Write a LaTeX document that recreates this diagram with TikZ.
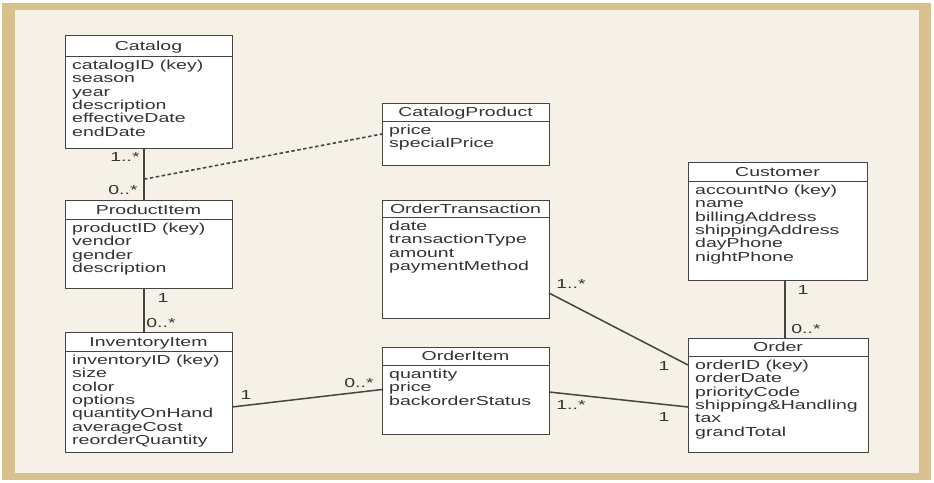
\documentclass[tikz,border=0pt]{standalone}
\usepackage{fontspec}
\setmainfont{Liberation Sans}[FakeStretch=1.5]
\definecolor{frametan}{HTML}{D6C18F}
\definecolor{cream}{HTML}{F6F1E6}
\definecolor{boxline}{HTML}{444444}
\definecolor{txt}{HTML}{333333}
\tikzset{
  clsbox/.style={draw=boxline, fill=white, line width=1pt, inner sep=0pt, outer sep=0pt},
  clsline/.style={draw=boxline, line width=1pt},
  clstext/.style={inner sep=0pt, text=txt, font=\fontsize{13}{13.4}\selectfont},
  conn/.style={draw=boxline, line width=1.5pt},
  mult/.style={inner sep=0pt, text=txt, font=\fontsize{13}{13.4}\selectfont}
}
\newcommand\umlclass[8]{%
  \node[clsbox, minimum width=#4pt, minimum height=#5pt, anchor=north west] (#1) at (#2,#3) {};
  \draw[clsline] ([yshift=-#6pt]#1.north west) -- ([yshift=-#6pt]#1.north east);
  \node[clstext, anchor=base] (#1-title) at ([yshift={-(#6*0.5+4.6)*1pt}]#1.north) {#7};
  \foreach \a [count=\i] in {#8} {
    \node[clstext, anchor=base west] (#1-a\i) at ([shift={(7pt,{-(#6+13.3+13.4*(\i-1))*1pt})}]#1.north west) {\a};
  }
}
\begin{document}
\begin{tikzpicture}[x=1pt, y=-1pt]
\useasboundingbox (0,0) rectangle (934,482);
\fill[white] (0,0) rectangle (934,482);
\fill[frametan] (2,3) rectangle (931,480);
\fill[cream] (15,10) rectangle (919,473);

\umlclass{catalog}{65}{35}{167}{113}{21}{Catalog}{catalogID (key),season,year,description,effectiveDate,endDate}
\umlclass{cp}{382}{103}{167}{62}{18}{CatalogProduct}{price,specialPrice}
\umlclass{prod}{65}{200}{167}{88}{19}{ProductItem}{productID (key),vendor,gender,description}
\umlclass{inv}{65}{332}{167}{120}{19}{InventoryItem}{inventoryID (key),size,color,options,quantityOnHand,averageCost,reorderQuantity}
\umlclass{ot}{382}{200}{167}{118}{17}{OrderTransaction}{date,transactionType,amount,paymentMethod}
\umlclass{oi}{382}{347}{167}{87}{18}{OrderItem}{quantity,price,backorderStatus}
\umlclass{cust}{688}{162}{179}{118}{19}{Customer}{accountNo (key),name,billingAddress,shippingAddress,dayPhone,nightPhone}
\umlclass{order}{688}{338}{180}{114}{18}{Order}{orderID (key),orderDate,priorityCode,shipping\&Handling,tax,grandTotal}

% connectors
\draw[conn] ([xshift=-4.5pt]catalog.south) -- ([xshift=-4.5pt]prod.north) coordinate[pos=0.6] (dj);
\draw[conn, line width=1.6pt, dash pattern=on 3.5pt off 2.5pt] (dj) -- (cp.west);
\draw[conn] ([xshift=-4.5pt]prod.south) -- ([xshift=-4.5pt]inv.north);
\draw[conn] ([yshift=-15pt]inv.east) -- ([yshift=1pt]oi.west);
\draw[conn] ([yshift=-34pt]ot.east) -- ([yshift=30pt]order.west);
\draw[conn] ([yshift=-1.5pt]oi.east) -- ([yshift=-12pt]order.west);
\draw[conn] ([xshift=7.5pt]cust.south) -- ([xshift=7pt]order.north);

% multiplicities
\node[mult] (m1) at (125,157) {1..*};
\node[mult] (m2) at (123,190) {0..*};
\node[mult] (m3) at (163,298) {1};
\node[mult] (m4) at (161,323) {0..*};
\node[mult] (m5) at (246,395) {1};
\node[mult] (m6) at (359,383) {0..*};
\node[mult] (m7) at (571,284) {1..*};
\node[mult] (m8) at (664,366) {1};
\node[mult] (m9) at (571,405) {1..*};
\node[mult] (m10) at (664,417) {1};
\node[mult] (m11) at (803,290) {1};
\node[mult] (m12) at (806,329) {0..*};
\end{tikzpicture}
\end{document}
